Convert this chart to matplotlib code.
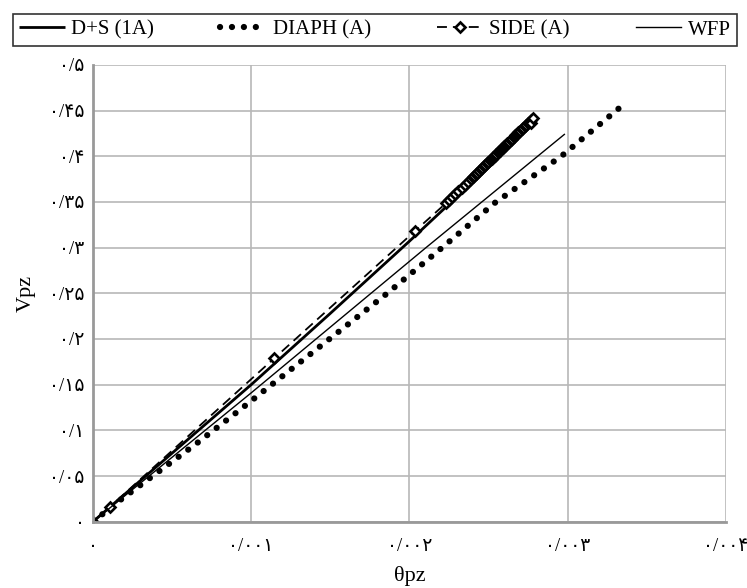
import matplotlib
matplotlib.use("Agg")
import matplotlib.pyplot as plt

plt.rcParams['font.family'] = ['Liberation Serif', 'DejaVu Sans']

# ---- data ----
ds_x = [0, 0.0005, 0.001, 0.0015, 0.002, 0.0025, 0.00279]
ds_y = [0, 0.075, 0.150, 0.228, 0.307, 0.388, 0.438]

diaph_x = [0, 0.00017, 0.00065, 0.00094, 0.00186, 0.0022, 0.00254, 0.00296, 0.00337]
diaph_y = [0, 0.0234, 0.085, 0.124, 0.250, 0.299, 0.349, 0.400, 0.459]

side_x = [0, 0.000108, 0.001146, 0.002038, 0.002231,
          0.00225, 0.00227, 0.00229, 0.00231, 0.00233, 0.00235, 0.00237, 0.00239,
          0.00240, 0.00241, 0.00242, 0.00243, 0.00244, 0.00245, 0.00246, 0.00247,
          0.00248, 0.00249, 0.00250, 0.00251, 0.00252, 0.00253, 0.00254, 0.00255,
          0.00256, 0.00257, 0.00258, 0.00259, 0.00260, 0.00261, 0.00262, 0.00263,
          0.00264, 0.00265, 0.00266, 0.00267, 0.00268, 0.00269, 0.00270, 0.00271,
          0.00272, 0.00273, 0.00274, 0.00275, 0.00276, 0.00277, 0.002772, 0.002782]
side_y = [0, 0.0164, 0.1789, 0.3186, 0.3486,
          0.3518, 0.3552, 0.3586, 0.3620, 0.3653, 0.3687, 0.3721, 0.3755,
          0.3772, 0.3788, 0.3805, 0.3822, 0.3839, 0.3856, 0.3873, 0.3890,
          0.3907, 0.3924, 0.3941, 0.3957, 0.3974, 0.3991, 0.4008, 0.4025,
          0.4042, 0.4059, 0.4076, 0.4093, 0.4110, 0.4126, 0.4143, 0.4160,
          0.4177, 0.4194, 0.4211, 0.4228, 0.4245, 0.4262, 0.4279, 0.4295,
          0.4312, 0.4329, 0.4346, 0.4363, 0.4380, 0.4397, 0.4368, 0.4416]

wfp_x = [0, 0.001, 0.0021, 0.00298]
wfp_y = [0, 0.141, 0.2993, 0.424]

x_ticks = [0, 0.001, 0.002, 0.003, 0.004]
x_tick_labels = ['۰', '۰/۰۰۱', '۰/۰۰۲', '۰/۰۰۳', '۰/۰۰۴']
y_ticks = [0, 0.05, 0.1, 0.15, 0.2, 0.25, 0.3, 0.35, 0.4, 0.45, 0.5]
y_tick_labels = ['۰', '۰/۰۵', '۰/۱', '۰/۱۵', '۰/۲', '۰/۲۵', '۰/۳', '۰/۳۵', '۰/۴', '۰/۴۵', '۰/۵']

series_names = ['D+S (1A)', 'DIAPH (A)', 'SIDE (A)', 'WFP']

# ---- figure ----
fig = plt.figure(figsize=(7.47, 5.88), dpi=100)
ax = fig.add_axes([0.1245, 0.1128, 0.8470, 0.7767])

ax.set_xlim(0, 0.004)
ax.set_ylim(0, 0.5)
ax.set_xticks(x_ticks)
ax.set_xticklabels(x_tick_labels)
ax.set_yticks(y_ticks)
ax.set_yticklabels(y_tick_labels)
ax.tick_params(length=0, labelsize=13.5, colors='black')
ax.tick_params(axis='x', pad=12)
ax.tick_params(axis='y', pad=6)

ax.grid(True, color='#b8b8b8', linewidth=1.2)
ax.set_axisbelow(True)
for s in ['top', 'right']:
    ax.spines[s].set_visible(False)
for s in ['left', 'bottom']:
    ax.spines[s].set_color('#999999')
    ax.spines[s].set_linewidth(2)

l_ds, = ax.plot(ds_x, ds_y, color='black', linewidth=2.0, solid_capstyle='butt')
l_di, = ax.plot(diaph_x, diaph_y, color='black', linewidth=4.5,
                linestyle=(0, (0.01, 1.9)), dash_capstyle='round')
l_sd, = ax.plot(side_x, side_y, color='black', linewidth=1.3,
                linestyle=(0, (5.5, 3.3)), marker='D', markersize=5.3,
                markerfacecolor='white', markeredgecolor='black', markeredgewidth=1.9)
l_wf, = ax.plot(wfp_x, wfp_y, color='black', linewidth=1.0)

ax.set_xlabel('θpz', fontsize=16, labelpad=8)
ax.set_ylabel('Vpz', fontsize=16, labelpad=10)

leg = fig.legend([l_ds, l_di, l_sd, l_wf], series_names,
                 loc='lower left', bbox_to_anchor=(0.0174, 0.9218, 0.9692, 0.0578),
                 mode='expand', ncol=4, fontsize=15, frameon=True, fancybox=False,
                 handlelength=2.2, handletextpad=0.3, borderaxespad=0,
                 borderpad=0.3, columnspacing=1.0)
leg.get_frame().set_edgecolor('black')
leg.get_frame().set_linewidth(1.2)

fig.savefig('out.png', dpi=100)
